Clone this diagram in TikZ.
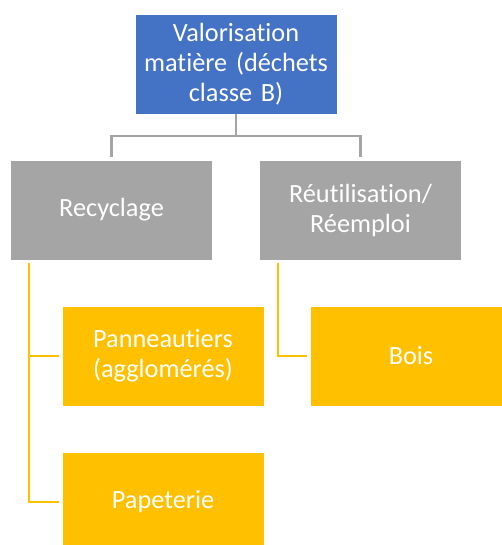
\documentclass[tikz,border=0pt]{standalone}
\usepackage{fontspec}
\setmainfont{Carlito}[Ligatures=NoCommon]
\definecolor{cblue}{HTML}{4472C4}
\definecolor{cgray}{HTML}{A5A5A5}
\definecolor{cyel}{HTML}{FFC000}
\begin{document}
\begin{tikzpicture}[x=1pt,y=-1pt,
  box/.style={draw=white,line width=0.6pt,minimum width=202pt,minimum height=100pt,
    text width=194pt,align=center,inner sep=0pt,text=white,
    font=\fontsize{26.3}{30}\selectfont},
  gline/.style={draw=cgray,line width=2.2pt},
  yline/.style={draw=cyel,line width=2.2pt}]
\useasboundingbox (0,0) rectangle (502,545);
\clip (0,0) rectangle (502,545);
\node[box,fill=cblue] (top) at (236,64) {Valorisation\\matière (déchets\\classe B)};
\node[box,fill=cgray] (rec) at (111.5,210) {Recyclage};
\node[box,fill=cgray] (reu) at (360.5,210) {Réutilisation/\\Réemploi};
\node[box,fill=cyel] (pan) at (163,356) {Panneautiers\\(agglomérés)};
\node[box,fill=cyel] (pap) at (163,502) {Papeterie};
\node[box,fill=cyel] (bois) at (411,356) {Bois};
\coordinate (j) at (236,136);
\draw[gline] (top.south) -- (j);
\draw[gline] ([yshift=3pt]rec.north) |- (j) -| ([yshift=3pt]reu.north);
\draw[yline] ([xshift=19pt,yshift=-3pt]rec.south west) |- ([xshift=-3pt]pan.west);
\draw[yline] ([xshift=19pt,yshift=-3pt]rec.south west) |- ([xshift=-3pt]pap.west);
\draw[yline] ([xshift=19pt,yshift=-3pt]reu.south west) |- ([xshift=-3pt]bois.west);
\end{tikzpicture}
\end{document}
